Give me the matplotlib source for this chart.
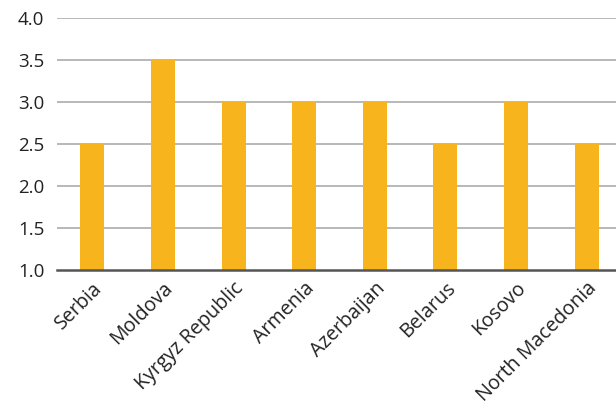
import matplotlib
matplotlib.use("Agg")
import matplotlib.pyplot as plt

countries = ["Serbia", "Moldova", "Kyrgyz Republic", "Armenia",
             "Azerbaijan", "Belarus", "Kosovo", "North Macedonia"]
values = [2.5, 3.5, 3.0, 3.0, 3.0, 2.5, 3.0, 2.5]
yticks = [1.0, 1.5, 2.0, 2.5, 3.0, 3.5, 4.0]

plt.rcParams["font.family"] = ["Open Sans", "DejaVu Sans"]

fig = plt.figure(figsize=(6.16, 4.09), dpi=100)
ax = fig.add_axes([57 / 616, 1 - 270 / 409, 565 / 616, 252 / 409])

x = list(range(len(countries)))
ax.bar(x, [v - 1.0 for v in values], bottom=1.0, width=0.34,
       color="#F8B41C", zorder=3)

ax.set_ylim(1.0, 4.0)
ax.set_xlim(-0.5, len(countries) - 0.5)
ax.set_yticks(yticks)
ax.set_yticklabels([f"{t:.1f}" for t in yticks], fontsize=13.5, color="#222222")
ax.set_xticks(x)
ax.set_xticklabels(countries, rotation=45, ha="right", rotation_mode="anchor",
                   fontsize=14.2, color="#222222")
ax.tick_params(axis="both", length=0)
ax.tick_params(axis="y", pad=9)
ax.tick_params(axis="x", pad=6)

for t in yticks[1:]:
    ax.axhline(t, color="#ABABAB", lw=1.2, zorder=1)

for s in ["top", "right", "left"]:
    ax.spines[s].set_visible(False)
ax.spines["bottom"].set_color("#555555")
ax.spines["bottom"].set_linewidth(1.8)
ax.spines["bottom"].set_zorder(4)

fig.savefig("out.png", dpi=100)
